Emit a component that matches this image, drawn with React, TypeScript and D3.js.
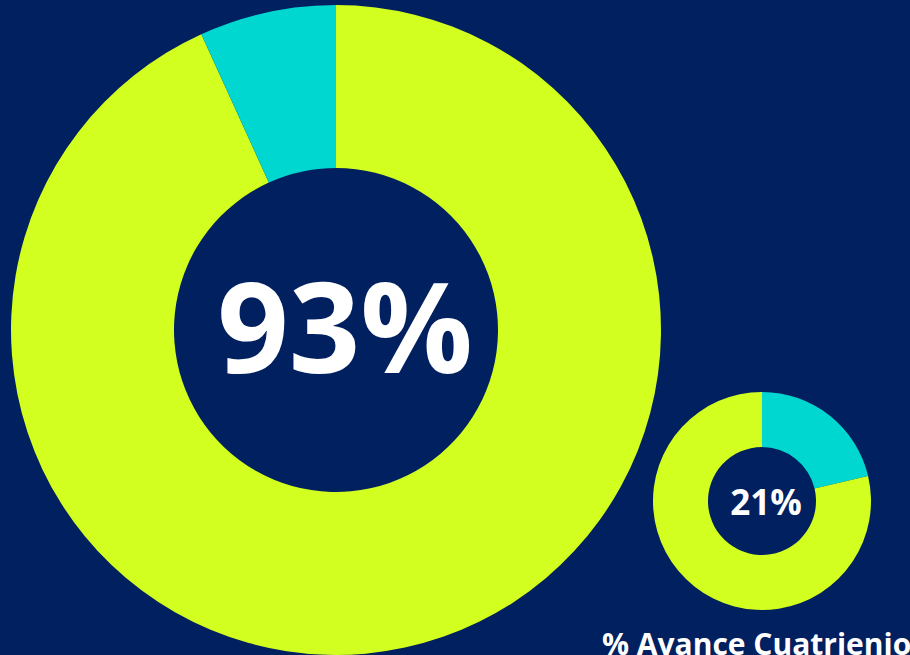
import { useEffect } from 'react'
import * as d3 from 'd3'

// avance del periodo (donut grande) y del cuatrienio (donut pequeño)
const mainLabels = ['Avance', 'Pendiente']
const mainValues = [93.2, 6.8]
const mainText = '93%'

const smallLabels = ['Avance', 'Pendiente']
const smallValues = [21.3, 78.7]
const smallText = '21%'

const title = '% Avance Cuatrienio'

const W = 910
const H = 655
const BG = '#002060'
const LIME = '#D2FF1F'
const CYAN = '#00D7D0'

interface DonutProps {
  labels: string[]
  values: number[]
  colors: string[]
  cx: number
  cy: number
  outer: number
  inner: number
  text: string
  fontSize: number
  textDx?: number
  textDy?: number
}

const Donut: React.FC<DonutProps> = ({ labels, values, colors, cx, cy, outer, inner, text, fontSize, textDx = 0, textDy = 0 }) => {
  const pie = d3.pie<number>().sort(null).value(d => d)
  const arc = d3.arc<d3.PieArcDatum<number>>().innerRadius(inner).outerRadius(outer)
  const color = d3.scaleOrdinal<string, string>().domain(labels).range(colors)
  const arcs = pie(values)

  return (
    <g transform={`translate(${cx},${cy})`}>
      {arcs.map((a, i) => (
        <path key={labels[i]} d={arc(a) || ''} fill={color(labels[i])} />
      ))}
      <text
        x={textDx}
        y={textDy}
        textAnchor="middle"
        dominantBaseline="central"
        fill="#ffffff"
        fontWeight="bold"
        fontSize={fontSize}
        style={{ fontFamily: '"Open Sans", "Noto Sans", sans-serif' }}
      >
        {text}
      </text>
    </g>
  )
}

export default function App() {
  useEffect(() => {
    document.body.style.margin = '0'
  }, [])

  return (
    <svg width={W} height={H} style={{ display: 'block', background: BG }}>
      <rect width={W} height={H} fill={BG} />
      <Donut
        labels={mainLabels}
        values={mainValues}
        colors={[LIME, CYAN]}
        cx={336}
        cy={330}
        outer={325}
        inner={162}
        text={mainText}
        fontSize={125}
        textDx={9}
        textDy={-6}
      />
      <Donut
        labels={smallLabels}
        values={smallValues}
        colors={[CYAN, LIME]}
        cx={762}
        cy={501}
        outer={109}
        inner={54}
        text={smallText}
        fontSize={35}
        textDx={4}
      />
      <text
        x={602}
        y={655}
        fill="#ffffff"
        fontWeight="bold"
        fontSize={30}
        style={{ fontFamily: '"Open Sans", "Noto Sans", sans-serif' }}
      >
        {title}
      </text>
    </svg>
  )
}
